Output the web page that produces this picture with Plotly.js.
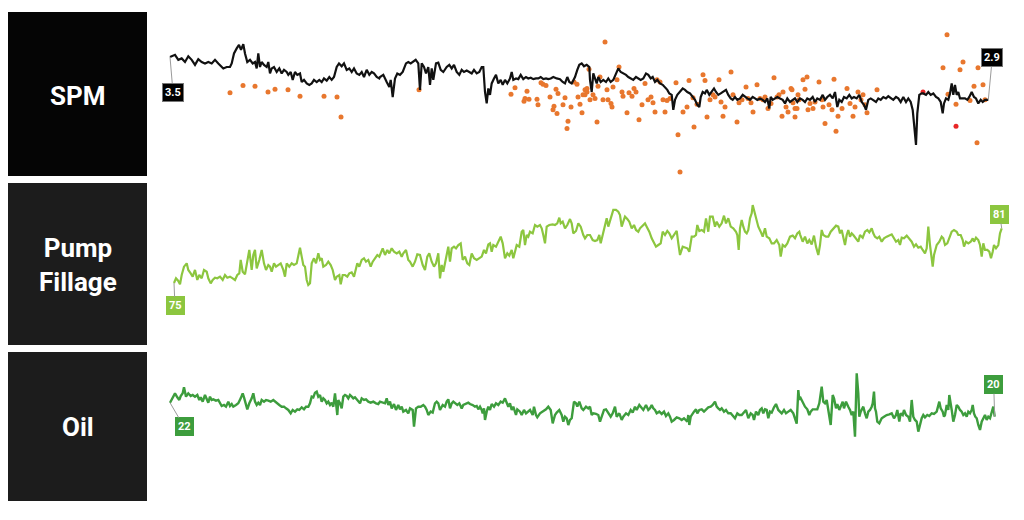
<!DOCTYPE html>
<html>
<head>
<meta charset="utf-8">
<script src="https://cdn.plot.ly/plotly-3.0.1.min.js"></script>
<style>
html,body{margin:0;padding:0;background:#fff;}
#chart{width:1024px;height:520px;}
</style>
</head>
<body>
<div id="chart"></div>
<script>
// ---------- panel labels ----------
const panelLabels = ["SPM", "Pump<br>Fillage", "Oil"];

// ---------- SPM line (time index, strokes per minute) ----------
const spmT = [0,1.7,5,8.3,11.7,15,18.3,21.7,25,28.3,
31.7,35,38.3,41.7,45,48.3,50,53.3,56.7,60,
61.7,64,66.7,69,71,73.3,75,77.3,80,82.7,
85,86.7,88.3,90,91.7,94,96.7,98.3,100,101.7,
104,106.7,109.3,111.7,114,116.7,118.3,120.7,122.7,125,
127.3,130,131.7,134,136.7,139.3,141.7,144,146.7,149.3,
151.7,154,156.7,159.3,161.7,164,166.7,169,171.7,174,
176.7,179.3,181.7,184,186.7,189.3,191.7,194,196.7,199.3,
201.7,204,206.7,209.3,
210,213.3,216.7,219.3,220.7,222.7,225,227.3,230,232.7,
236,238.3,240.7,243.3,245.7,248.3,250,251.7,254,256,
258.3,260,261.7,263.3,266,268.3,270.7,273.3,276.7,279.3,
281.7,284,286.7,289.3,291.7,294,296.7,299.3,301.7,304,
306.7,309.3,311.7,313.3,315,316.7,318.3,320,321.7,324,
326,328.3,330.7,332.7,335,337.3,340,341.7,343.3,346,
348.3,350.7,353.3,356,358.3,360.7,363.3,366,368.3,370.7,
373.3,376,378.3,380.7,383.3,386.7,390,392.7,395,397.3,
399.3,401.7,405,407.3,409.3,411.7,414,416.7,419.3,
420,421.7,423.3,425,426.7,428.3,430.7,433.3,436,438.3,
440.7,443.3,446,448.3,450.7,453.3,456,458.3,460.7,463.3,
466,468.3,470.7,473.3,476,478.3,480.7,482.7,485,487.3,
490,492.7,495,497.3,499.3,501.7,503.3,505,507.3,510,
512.7,515,517.3,520,522.7,525,527.3,529.3,530.7,532.7,
535,536.7,539.3,541.7,544,546,548.3,550.7,553.3,556,
558.3,560.7,562.7,565,567.3,570,572.7,575,577.3,580,
582.7,585,587.3,590,592.7,595,597.3,599.3,600.7,602.7,
605,607.3,610,612.7,615,617.3,620,622.7,625,627.3,629.3,
630,632.7,635,637.3,640,642.7,645,647.3,650,652.7,
655,657.3,660,662.7,665,667.3,669.3,671.7,674,676.7,
679.3,681.7,684,686.7,689.3,691.7,694,696,698.3,700.7,
703.3,706,708.3,710.7,713.3,716,718.3,720.7,723.3,726,
728.3,730.7,733.3,736,738.3,740.7,742.7,744,746,747.3,
749.3,751.7,753.3,756,758.3,760.7,763.3,766,768.3,770.7,
772.7,774,776,778.3,780,781.7,783.3,785,786.7,788.3,
790,792.7,795,797.3,799.3,801.7,804,806,808.3,810.7,
812.7,815,818.3];
const spmV = [3.50,3.51,3.53,3.46,3.48,3.43,3.51,3.46,3.39,3.47,
3.43,3.41,3.43,3.41,3.46,3.41,3.39,3.34,3.36,3.36,
3.41,3.55,3.62,3.67,3.60,3.68,3.55,3.43,3.46,3.41,
3.43,3.34,3.55,3.36,3.43,3.39,3.36,3.43,3.27,3.34,
3.36,3.29,3.34,3.27,3.32,3.29,3.25,3.29,3.18,3.29,
3.25,3.27,3.15,3.18,3.13,3.11,3.13,3.18,3.15,3.18,
3.15,3.20,3.17,3.22,3.18,3.22,3.36,3.41,3.37,3.41,
3.32,3.34,3.29,3.34,3.27,3.25,3.29,3.22,3.32,3.25,
3.29,3.27,3.22,3.20,
3.22,3.25,3.15,3.08,3.18,2.94,3.20,3.27,3.25,3.29,
3.41,3.43,3.41,3.43,3.46,3.41,3.04,3.41,3.36,3.27,
3.36,3.11,3.34,3.18,3.41,3.42,3.32,3.29,3.36,3.39,
3.34,3.39,3.29,3.25,3.32,3.29,3.31,3.29,3.27,3.32,
3.27,3.29,3.36,3.36,3.01,2.85,3.06,2.97,3.13,3.20,
3.25,3.13,3.18,3.11,3.18,3.13,3.20,3.29,3.18,3.20,
3.19,3.25,3.19,3.22,3.20,3.21,3.19,3.20,3.20,3.22,
3.19,3.20,3.19,3.20,3.22,3.20,3.19,3.15,3.13,3.22,
3.15,3.13,3.22,3.32,3.39,3.41,3.37,3.39,3.36,
3.18,3.01,3.27,3.20,3.13,3.22,3.15,3.18,3.15,3.20,
3.15,3.18,3.27,3.34,3.29,3.27,3.25,3.22,3.20,3.18,
3.22,3.20,3.18,3.20,3.27,3.25,3.20,3.22,3.15,3.18,
3.13,3.11,3.08,3.04,2.99,2.97,2.76,2.90,2.97,3.01,
3.06,3.04,3.01,2.99,2.94,2.90,2.83,2.80,2.94,3.01,
2.99,3.04,2.97,3.01,3.06,3.01,2.97,2.99,3.01,3.04,
2.97,2.92,2.90,2.94,2.90,2.92,2.97,2.94,2.92,2.90,
2.94,2.92,2.90,2.92,2.90,2.87,2.92,2.78,2.94,2.90,
2.92,2.94,2.92,2.90,2.85,2.92,2.87,2.90,2.92,2.87,2.90,
2.92,2.90,2.87,2.92,2.90,2.94,2.87,2.92,2.90,2.97,
2.90,2.94,2.97,2.92,3.01,2.80,2.90,2.87,2.94,2.92,
2.97,2.92,2.94,2.92,2.97,2.87,2.83,2.76,2.90,2.92,
2.90,2.87,2.92,2.90,2.94,2.92,2.95,2.92,2.90,2.94,
2.92,2.87,2.94,2.87,2.92,2.87,2.76,2.57,2.27,2.71,
2.97,2.99,2.99,2.97,3.01,2.97,2.99,2.94,2.92,2.87,
2.71,2.85,2.92,2.90,2.99,3.13,2.97,3.11,2.97,3.01,
2.92,2.92,2.92,2.90,2.94,3.01,2.94,2.92,2.85,2.90,
2.87,2.90,2.90];

// ---------- SPM individual readings (orange) ----------
const dotT = [60,73,85,98,105,118,130,154,167,171,
249,345,341,357,354,355,359,367,368,371,
373,376,380,383,384,386,388,393,387,395,
398,397,401,404,407,408,410,412,415,417,
435,413,415,417,419,420,423,425,427,428,
430,433,437,438,441,442,443,447,449,452,
453,457,459,462,464,466,469,472,475,478,
481,483,485,487,490,493,495,497,500,506,
508,510,513,517,519,523,524,527,533,535,
537,540,543,545,549,551,553,555,561,563,
567,569,572,576,578,581,583,587,590,593,
595,598,601,604,607,609,612,613,616,618,
621,623,625,628,
622,625,627,629,633,635,637,638,640,643,
645,649,652,653,655,659,662,664,666,668,
672,677,680,683,685,688,691,693,695,697,
707,773,777,778,786,790,793,800,804,807,
808,813,815];
const dotV = [3.00,3.10,3.09,3.01,3.05,3.04,2.95,2.95,2.94,2.66,
3.04,3.07,2.98,3.02,2.88,2.92,2.91,2.91,2.83,3.14,
3.12,3.10,2.94,2.76,2.81,3.05,2.99,2.83,2.71,2.93,
2.60,2.50,2.80,3.15,3.12,2.94,2.84,2.72,2.97,3.06,
3.71,2.97,3.04,3.01,3.33,2.90,2.97,2.92,2.59,3.09,
3.22,2.90,3.04,2.90,2.85,2.80,3.08,3.18,3.36,3.01,
2.95,2.72,3.00,2.95,3.06,3.01,2.62,2.83,3.13,2.90,
2.94,2.86,2.73,3.18,3.15,2.90,2.73,2.89,2.92,3.14,
2.41,1.89,2.73,2.80,3.17,2.93,2.52,2.84,3.25,3.17,
2.66,2.90,2.97,2.94,3.18,2.87,2.67,2.80,3.29,2.97,
2.59,2.86,2.90,3.08,2.92,2.86,2.73,3.11,2.92,2.90,
2.94,2.78,2.85,3.21,2.94,2.97,2.67,3.01,2.80,2.73,
3.06,2.86,2.78,2.97,
3.04,2.66,2.78,2.90,3.18,3.05,3.22,2.76,2.85,2.78,
2.87,3.15,2.90,2.80,2.57,2.83,2.76,3.19,2.46,2.67,
2.78,3.06,2.85,2.67,2.80,3.01,2.90,2.97,2.83,2.72,
3.04,3.35,3.81,2.98,2.84,3.32,3.43,2.89,3.09,2.30,
3.35,3.11,2.90];
// flagged readings (red)
const redT = [753, 786];
const redV = [3.01, 2.53];

// ---------- Pump fillage (%) ----------
const pumpT = [4,6,8.3,10,11.7,14,16.7,18.3,20.7,22.7,
25,27.3,29.3,31.7,34,36.7,38.3,40.7,42.7,45,
47.3,50,52.7,55,57.3,60,62.7,65,67.3,69.3,
70.7,72.7,75,77.3,79.3,81.7,83.3,85,86.7,89.3,
91.7,94,96,98.3,100,101.7,104,106,108.3,110.7,
113.3,115,116.7,119.3,121.7,124,126.7,128.3,130,131.7,
133.3,135,136.7,138.3,140,141.7,144,146,148.3,150,
151.7,153.3,156,158.3,160.7,162.7,165,166.7,169.3,170.7,
172.7,175,177.3,179.3,181.7,184,186,187.3,189.3,191.7,
194,196,198.3,200.7,202.7,205,207.3,209.3,
210,212.7,215,217.3,219.3,221.7,224,226.7,229.3,231.7,
233.3,236,238.3,240,242.7,245,247.3,250,252.7,255,
257.3,259.3,261.7,264,266,268.3,270,271.7,273.3,276,
278.3,280,281.7,284,286,288.3,290.7,292.7,295,297.3,
299.3,301.7,304,306.7,309.3,311.7,314,316,318.3,320,
321.7,323.3,326,328.3,330.7,332.7,335,337.3,339.3,341.7,
343.3,345,346.7,349.3,351.7,353.3,355,356.7,358.3,360,
362.7,365,367.3,370,371.7,373.3,375,376.7,379.3,382.7,
385,387.3,389.3,390.7,392.7,395,397.3,400,401.7,403.3,
406,408.3,410.7,413.3,415,417.3,
420,422.7,425,427.3,429.3,430.7,432.7,435,436.7,438.3,
440,441.7,443.3,446,448.3,450,451.7,453.3,455,457.3,
459.3,461.7,464,466,468.3,470,472.7,475,476.7,479.3,
481.7,484,486,488.3,490.7,492.7,495,497.3,499.3,501.7,
504,506.7,508.3,510,512.7,515,517.3,519.3,521.7,524,
526,527.3,529.3,531.7,534,536,538.3,540,542.7,545,
546.7,549.3,551.7,554,556,558.3,560.7,563.3,566,567.3,
568.7,570,571.7,573.3,575,576.7,578.3,580,581.7,582.7,
584,586,588.3,590.7,592.7,595,596.7,599.3,601.7,604,
606.7,609.3,610.7,612.7,615,617.3,620,622.7,625,627.3,629.3,
630,632.7,635,637.3,639.3,641.7,644,646,648.3,650,
651.7,653.3,656,658.3,660.7,663.3,666,668.3,670,671.7,
673.3,675,676.7,678.3,680,681.7,683.3,686,688.3,690,
692.7,695,697.3,699.3,701.7,703.3,705,707.3,709.3,711.7,
714,716.7,719.3,721.7,724,726,728.3,730,731.7,734,
736.7,739.3,741.7,744,746,748.3,750.7,752.7,755,756.7,
758.3,760,761.7,762.7,764,766.7,769.3,771.7,773.3,775,
777.3,779.3,781.7,784,786.7,788.3,790.7,792.7,794,796,
798.3,800.7,802.7,804,806,808.3,810,811.7,813.3,815,
817.3,819.3,821,822.7,824,826,828.3,830,831.7];
const pumpV = [75.00,75.51,75.22,74.85,75.87,76.78,77.14,76.42,76.05,75.69,
76.42,75.33,75.87,75.51,76.42,76.23,75.51,74.96,75.33,75.58,
75.51,75.69,75.33,75.87,75.58,75.69,75.51,75.33,75.87,76.05,
77.51,76.23,75.94,77.51,78.60,76.42,78.05,78.60,76.60,77.51,
78.60,77.14,76.42,76.96,76.78,76.23,77.14,76.78,76.96,77.14,
76.42,75.69,77.14,76.78,77.14,76.96,77.14,78.05,78.85,77.87,
76.96,76.78,75.33,74.78,74.96,77.14,77.69,77.14,78.23,77.51,
77.69,76.78,76.96,77.32,76.96,76.42,75.33,75.69,75.87,74.85,
75.87,75.87,75.69,76.05,76.16,75.69,76.42,77.14,76.78,77.51,
77.69,77.32,77.51,76.78,77.32,77.69,78.05,77.87,
78.05,78.78,78.05,78.60,78.23,78.78,78.41,78.23,78.41,77.87,
78.23,78.60,77.51,77.32,76.78,77.32,78.12,78.05,76.96,76.42,
77.87,78.23,77.32,76.78,77.14,78.23,75.51,76.96,76.23,77.87,
78.96,77.32,78.78,78.96,78.78,79.14,79.32,77.51,77.87,77.14,
76.96,78.23,77.69,77.51,77.69,77.87,78.60,78.23,79.21,79.32,
78.41,79.14,78.96,79.50,80.05,79.32,77.69,78.23,77.98,78.60,
77.69,78.41,79.14,78.96,80.59,80.78,79.14,80.23,80.05,80.59,
80.41,81.32,81.14,81.32,80.96,80.23,79.32,81.14,81.32,81.39,
81.32,81.50,82.12,81.50,81.68,80.96,81.32,81.97,81.50,80.41,
80.67,81.50,81.14,80.23,79.87,80.23,
80.23,79.68,79.58,79.68,80.23,79.32,80.23,81.50,82.05,81.14,
81.87,82.59,82.96,82.96,82.77,82.41,81.14,81.68,82.23,81.97,
81.68,80.96,81.32,80.78,80.59,80.96,81.32,81.50,81.14,80.59,
79.87,79.32,78.96,79.14,79.32,80.59,80.23,80.67,80.41,79.87,
80.23,80.67,79.32,78.05,78.96,78.85,78.78,78.41,80.05,80.05,
80.23,81.32,80.67,80.78,80.59,82.05,80.59,82.23,82.23,81.14,
81.68,81.14,81.50,82.34,81.50,82.05,81.14,80.96,80.59,80.23,
78.60,80.96,81.87,81.14,80.59,80.41,80.78,82.05,82.59,83.50,
82.96,81.87,81.14,80.59,80.05,80.96,80.05,79.87,79.32,79.32,
79.68,79.14,77.87,79.14,78.96,79.32,80.05,80.16,79.87,80.41,80.59,
80.30,79.50,80.05,79.32,79.68,79.21,80.16,78.96,78.05,79.14,
80.78,80.23,80.05,80.05,80.59,80.96,81.25,81.14,80.41,80.78,
79.87,79.14,80.23,80.78,80.05,80.41,80.23,79.87,79.50,80.23,
79.94,80.59,80.78,80.52,80.96,80.41,80.05,79.87,80.05,79.50,
79.87,80.05,80.23,80.30,79.87,79.50,79.68,79.14,79.94,79.87,
80.16,79.87,79.50,78.96,79.21,78.85,78.96,78.60,78.23,78.78,
81.14,79.14,77.51,76.78,78.05,79.14,79.50,80.05,79.87,79.14,
79.32,79.87,80.59,80.78,80.59,80.23,80.23,79.68,78.96,79.50,
79.32,79.50,79.87,79.50,79.94,79.68,79.14,77.87,79.32,78.60,
78.60,78.41,77.69,78.41,79.14,78.78,79.14,80.41,80.96];

// ---------- Oil (bbl/d) ----------
const oilT = [0,2.7,5,7.3,9.3,10.7,12.7,14,16,18.3,
20.7,22.7,25,27.3,29.3,30.7,32.7,35,36.7,38.3,
40,41.7,43.3,46,48.3,50,51.7,54,56,58.3,
60,61.7,63.3,66,68.3,70.7,72.7,74,76,77.3,
79.3,81.7,83.3,85,86.7,88.3,90,91.7,94,96,
98.3,100.7,103.3,105,106.7,109.3,111.7,114,116,118.3,
120.7,122.7,125,127.3,129.3,131.7,134,136,138.3,140,
141.7,143.3,145,146.7,148.3,150,151.7,153.3,155,156.7,
158.3,160,161.7,163.3,165,166,167.3,168.3,170,171.7,
173.3,175,176.7,178.3,180,181.7,183.3,185,186.7,188.3,
190,191.7,194,196,198.3,200.7,203.3,206,208.3,210,
212.7,215,216.7,218.3,220,221.7,224,226,228.3,230,
231.7,233.3,236,238.3,240,242.7,244,246,248.3,250.7,
253.3,255,256.7,258.3,260.7,262.7,265,266.7,268.3,270,
272.7,275,276.7,278.3,280,281.7,283.3,285,287.3,289.3,
291.7,293.3,296,298.3,300,302.7,305,306.7,308.3,310,
311.7,312.7,314,315,316.7,318.3,320,321.7,324,326,
328.3,330.7,332.7,335,336.7,338.3,340,341.7,343.3,346,
347.3,350,351.7,354,356,358.3,360,362.7,364,366,
367.3,370,372.7,374,376,378.3,380.7,382.7,385,386.7,
389.3,391.7,393.3,395,396.7,398.3,400,401.7,404,406,
407.3,409.3,411.7,413.3,416,418.3,420,
421.7,423.3,426,428.3,430,431.7,434,436,438.3,440.7,
442.7,445,446.7,449.3,451.7,453.3,456,458.3,460.7,462.7,
465,466.7,469.3,471.7,473.3,476,478.3,480,481.7,483.3,
485,486.7,489.3,491.7,494,496,498.3,500,501.7,504,
506.7,509.3,511.7,514,516,517.3,518.3,519.3,520.7,522.7,
524,526,527.3,529.3,531.7,534,536,538.3,540.7,542.7,
545,546.7,548.3,550,551.7,554,556,558.3,560.7,562.7,
565,567.3,569.3,571.7,574,576,578.3,580.7,582.7,584,
586,588.3,590,591.7,593.3,595,596.7,598.3,600,601.7,
604,606,608.3,610,611.7,614,616,618.3,620.7,623.3,
625,626.7,628.3,629.3,
630,632.7,635,637.3,639.3,640.7,642.7,645,647.3,649.3,
650.7,651.7,653.3,655,656.7,658.3,660.7,662.7,664,666,
667.3,669.3,670.7,672.7,674,676,678.3,680,681.7,683.3,
685,686.7,688.3,689.3,690.7,691.7,693.3,695,696.7,698.3,
700,701.7,702.7,704,705,706,707.3,709.3,711.7,714,
716.7,719.3,721.7,724,726,727.3,729.3,730.7,732.7,734,
736,738.3,740,741.7,743.3,745,746.7,748.3,750,751.7,
753.3,755,757.3,759.3,761.7,764,766.7,769.3,770.7,772.7,
774,775,776.7,778.3,779.3,780.7,781.7,783.3,785,786.7,
788.3,790,791.7,793.3,795,796.7,798.3,800,801.7,802.7,
804,805.3,806.7,808.3,810,811.7,813.3,815,816.7,818.3,
820,821.7,823.3,824.7];
const oilV = [22.00,22.62,23.34,22.77,22.39,22.96,23.34,24.20,22.86,23.34,
22.96,23.10,22.86,23.10,22.39,22.77,22.15,23.10,22.48,22.00,
22.86,22.39,22.48,22.29,22.39,21.91,21.53,21.67,21.43,22.15,
21.53,21.81,21.43,21.67,21.91,22.62,23.34,22.77,21.43,21.05,
21.91,22.62,23.34,22.15,21.67,22.00,21.67,22.39,22.15,22.39,
22.29,22.15,22.39,22.15,22.00,21.67,21.43,21.43,21.19,20.96,
20.48,20.96,20.72,21.05,20.96,21.34,21.05,21.43,21.43,21.91,
22.86,22.77,23.43,23.58,22.86,23.10,22.15,22.62,22.39,21.91,
22.15,21.67,22.00,21.43,23.34,21.91,20.24,22.39,21.91,21.19,
22.86,23.10,22.96,22.62,23.10,22.86,22.62,22.77,22.48,22.15,
21.91,22.62,22.39,22.48,22.15,22.00,22.15,21.91,21.81,22.15,
22.00,21.91,22.62,21.67,22.15,21.19,21.81,20.96,21.67,21.05,
21.43,20.72,20.96,20.48,21.19,20.96,18.58,21.19,21.43,21.43,
21.67,21.43,20.96,20.24,20.72,20.58,21.91,22.15,21.91,20.96,
21.67,21.43,22.15,22.48,21.19,21.91,22.15,21.91,21.67,21.91,
21.19,21.67,21.91,22.00,21.81,21.67,21.43,21.53,21.05,21.43,
20.96,20.48,21.19,19.53,20.72,21.43,20.96,21.81,21.43,21.91,
21.67,22.15,22.00,22.62,22.00,21.43,21.91,20.96,21.43,20.24,
21.05,20.72,20.24,20.96,20.48,20.72,20.96,20.24,21.43,20.24,
19.91,20.48,20.72,20.96,21.05,21.43,20.96,19.05,20.24,20.58,
20.96,20.24,19.29,20.00,19.77,18.81,19.53,19.77,22.15,21.91,
21.43,22.15,21.19,20.96,21.43,21.19,21.43,
20.24,20.48,20.39,20.24,19.29,20.00,20.96,21.05,20.48,20.00,
20.48,21.43,20.00,20.48,19.53,20.00,20.48,20.24,20.96,20.58,
21.43,20.96,21.67,21.19,20.96,21.67,20.96,21.19,21.67,21.19,
20.96,20.48,20.72,20.39,20.72,20.10,20.48,20.00,19.29,19.53,
19.91,19.77,19.53,19.77,19.53,19.29,20.24,18.81,20.00,20.48,
20.72,21.05,20.48,20.96,21.05,20.72,20.96,21.34,21.43,21.67,
22.15,21.43,21.19,20.96,21.19,20.72,20.96,20.48,20.48,20.10,
19.77,20.48,20.24,20.24,20.72,20.96,19.77,20.48,20.24,19.53,
20.72,20.24,20.96,21.19,20.48,21.05,20.96,19.77,20.72,20.58,
21.34,21.81,20.96,20.72,20.48,20.96,20.48,20.72,20.96,20.48,
19.77,19.00,23.81,22.39,
22.86,22.15,21.43,21.05,20.24,20.72,21.05,21.05,21.05,21.91,
23.10,24.29,22.15,21.91,22.39,20.96,18.81,23.10,22.62,21.19,
21.81,20.96,21.43,22.15,21.19,22.15,21.43,20.96,20.24,20.72,
17.15,26.20,23.34,20.00,20.72,20.96,21.43,20.48,19.77,20.72,
20.96,21.43,21.91,23.58,21.19,20.72,19.29,19.05,19.77,20.00,
20.24,20.34,20.48,19.77,20.24,20.96,19.29,20.48,20.24,20.96,
20.24,20.00,19.29,22.39,20.00,19.53,19.29,17.86,19.05,19.77,
20.24,19.91,20.24,20.10,20.48,20.39,20.72,22.15,21.19,20.72,
20.00,20.24,21.67,20.96,23.10,21.43,20.96,19.29,20.24,21.67,
21.43,20.96,20.72,20.24,20.48,20.00,20.72,20.48,20.96,21.67,
20.48,20.00,19.77,18.81,18.10,19.29,19.77,20.24,19.53,20.00,
19.77,20.48,21.43,20.00];

// ---------- colours ----------
const C = {
  spm: "#111111", dot: "#e8772e", red: "#e82626",
  pump: "#8cc63f", oil: "#3d9d3d",
  box1: "#050505", box2: "#1c1c1c", box3: "#1c1c1c"
};

const W = 1024, H = 520;
const px = v => v / W;           // horizontal pixel -> paper
const py = v => 1 - v / H;        // vertical pixel -> paper

const traces = [
  {x: dotT, y: dotV, type: "scatter", mode: "markers", xaxis: "x", yaxis: "y",
   marker: {color: C.dot, size: 5}, hoverinfo: "skip"},
  {x: redT, y: redV, type: "scatter", mode: "markers", xaxis: "x", yaxis: "y",
   marker: {color: C.red, size: 5}, hoverinfo: "skip"},
  {x: spmT, y: spmV, type: "scatter", mode: "lines", xaxis: "x", yaxis: "y",
   line: {color: C.spm, width: 2.2}, hoverinfo: "skip"},
  {x: pumpT, y: pumpV, type: "scatter", mode: "lines", xaxis: "x", yaxis: "y2",
   line: {color: C.pump, width: 2.2}, hoverinfo: "skip"},
  {x: oilT, y: oilV, type: "scatter", mode: "lines", xaxis: "x", yaxis: "y3",
   line: {color: C.oil, width: 2.4}, hoverinfo: "skip"}
];

const hidden = {visible: false, showgrid: false, zeroline: false, fixedrange: true};

const boxes = [[12, 176, C.box1], [183, 345, C.box2], [352, 501, C.box3]];
const shapes = boxes.map(b => ({
  type: "rect", xref: "paper", yref: "paper",
  x0: px(8), x1: px(147), y0: py(b[1]), y1: py(b[0]),
  fillcolor: b[2], line: {width: 0}, layer: "below"
}));

const labelFont = {family: "Roboto, Arial, sans-serif", size: 26, color: "#ffffff", weight: 700};
const labelY = [96, 265, 427];
const annotations = panelLabels.map((t, i) => ({
  text: "<b>" + t + "</b>", xref: "paper", yref: "paper",
  x: px(77.5), y: py(labelY[i]), xanchor: "center", yanchor: "middle",
  align: "center", showarrow: false, font: labelFont
}));

function tag(xv, yv, yref, txt, bg, ax, ay, border) {
  return {x: xv, y: yv, xref: "x", yref: yref, text: txt, showarrow: true,
    arrowhead: 0, arrowwidth: 1, arrowcolor: "#9a9a9a", ax: ax, ay: ay, standoff: 0,
    bgcolor: bg, bordercolor: border || bg, borderwidth: 1, borderpad: 2,
    font: {family: "Roboto, Arial, sans-serif", size: 11, color: "#ffffff", weight: 700}};
}
const nS = spmT.length - 1, nP = pumpT.length - 1, nO = oilT.length - 1;
annotations.push(tag(spmT[0], spmV[0], "y", spmV[0].toFixed(1), "#000000", 3, 35, "#777777"));
annotations.push(tag(spmT[nS], spmV[nS], "y", spmV[nS].toFixed(1), "#000000", 4, -42, "#777777"));
annotations.push(tag(pumpT[0], pumpV[0], "y2", String(Math.round(pumpV[0])), C.pump, 1, 23));
annotations.push(tag(pumpT[nP], pumpV[nP], "y2", String(Math.round(pumpV[nP])), C.pump, -2, -14));
annotations.push(tag(oilT[0], oilV[0], "y3", String(Math.round(oilV[0])), C.oil, 14, 24));
annotations.push(tag(oilT[nO], oilV[nO], "y3", String(Math.round(oilV[nO])), C.oil, -1, -32));

const layout = {
  width: W, height: H,
  margin: {l: 0, r: 0, t: 0, b: 0, pad: 0},
  paper_bgcolor: "#ffffff", plot_bgcolor: "#ffffff",
  showlegend: false,
  xaxis: Object.assign({}, hidden, {domain: [0, 1], range: [-170, 854]}),
  yaxis: Object.assign({}, hidden, {domain: [py(176), py(12)], range: [1.834, 4.13], anchor: "x"}),
  yaxis2: Object.assign({}, hidden, {domain: [py(345), py(183)], range: [68.24, 85.9], anchor: "x"}),
  yaxis3: Object.assign({}, hidden, {domain: [py(501), py(352)], range: [7.94, 29.25], anchor: "x"}),
  shapes: shapes,
  annotations: annotations
};

Plotly.newPlot("chart", traces, layout, {displayModeBar: false, staticPlot: true});
</script>
</body>
</html>
